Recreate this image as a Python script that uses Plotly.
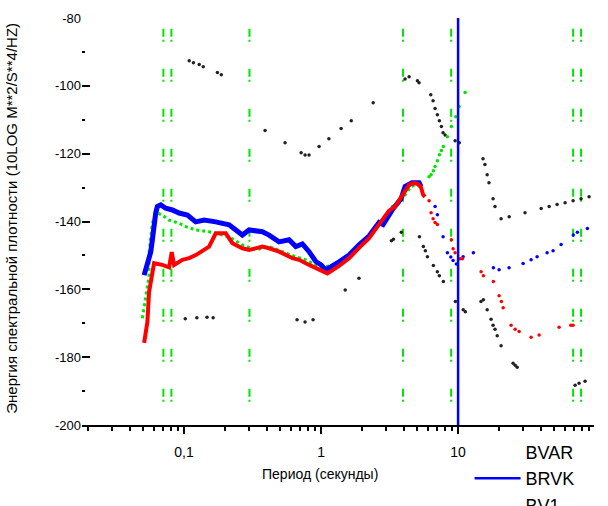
import plotly.graph_objects as go

# ---------------- data ----------------
# Upper noise model (black dots)
nhnm_period = [0.109, 0.117, 0.129, 0.138, 0.175, 0.187, 0.39, 0.546, 0.715, 0.764, 0.817, 0.967,
               1.14, 1.40, 1.66, 2.40, 4.10, 4.39, 5.05, 5.19, 6.32, 6.57, 6.79, 7.06, 7.30, 7.55,
               7.77, 8.04, 9.51, 10.2, 15.2, 15.7, 16.3, 16.8, 18.0, 18.6, 20.6, 23.6, 30.8, 40.4,
               46.2, 52.8, 60.4, 69.1, 79.0, 90.4]
nhnm_db = [-92.6, -93.2, -93.7, -94.4, -96.1, -96.7, -113.2, -116.8, -119.7, -120.4, -120.4, -117.9,
           -115.6, -112.6, -110.3, -105.0, -98.0, -97.3, -98.5, -99.1, -102.6, -104.4, -106.7, -108.5,
           -110.3, -112.0, -113.8, -114.5, -116.2, -116.8, -121.5, -123.2, -126.2, -128.6, -133.3,
           -135.6, -139.2, -138.6, -137.4, -136.2, -135.6, -135.0, -134.5, -133.9, -133.3, -132.7]

# Lower noise model (black dots)
nlnm_period = [0.102, 0.124, 0.147, 0.163, 0.668, 0.764, 0.874, 1.50, 1.89, 3.26, 3.37, 3.85, 5.22,
               5.58, 5.77, 5.97, 6.60, 7.06, 7.30, 7.81, 9.56, 10.9, 11.3, 14.7, 15.3, 16.3, 17.4,
               18.0, 18.6, 19.3, 20.6, 25.2, 26.1, 27.0, 71.5, 76.4, 84.5]
nlnm_db = [-168.7, -168.4, -168.2, -168.4, -169.0, -169.6, -169.0, -160.2, -156.7, -145.7, -145.2,
           -143.2, -144.5, -147.4, -148.6, -150.4, -153.0, -154.8, -156.0, -157.7, -163.6, -166.0,
           -166.6, -163.6, -163.1, -166.0, -168.8, -170.6, -171.8, -173.7, -176.6, -181.8, -182.4,
           -183.0, -188.3, -187.7, -187.1]

# BRVK (blue)
brvk_period = [0.0511, 0.0525, 0.0571, 0.0587, 0.0604, 0.0621, 0.0638, 0.0676, 0.0735, 0.0821,
               0.0919, 0.1057, 0.1217, 0.140, 0.1703, 0.2131, 0.2664, 0.2982, 0.3728, 0.4174,
               0.4936, 0.584, 0.6536, 0.7303, 0.8174, 0.9148, 1.0, 1.082, 1.353, 1.601, 1.894,
               2.240, 2.651, 2.836, 3.354, 3.648, 3.837, 4.104, 4.615, 5.192, 5.370]
brvk_db = [-155.8, -154.3, -149.0, -145.4, -140.4, -137.5, -135.6, -135.1, -136.1, -136.6,
           -137.5, -138.1, -140.1, -139.6, -140.1, -141.0, -144.0, -142.5, -143.0, -144.0,
           -146.0, -145.4, -147.4, -146.6, -148.9, -151.8, -152.8, -154.3, -151.9, -149.9, -146.9,
           -144.3, -140.3, -140.9, -136.2, -134.5, -133.3, -129.7, -128.6, -128.6, -129.7]
brvk_tail_period = [6.794, 7.062, 7.772, 8.355, 8.846, 9.194, 9.719, 10.88, 12.93, 18.10, 19.92,
                    23.56, 29.82, 34.11, 37.72, 44.63, 49.36, 56.47, 69.3, 74.27, 87.86]
brvk_tail_db = [-135.6, -138.0, -144.5, -149.2, -150.5, -151.5, -152.5, -150.4, -149.2, -153.6,
                -154.2, -153.6, -152.4, -151.3, -150.4, -149.2, -148.6, -146.8, -144.0, -143.2, -142.1]

# BVAR (red)
bvar_period = [0.0511, 0.0540, 0.0555, 0.0604, 0.0694, 0.0777, 0.0813, 0.0845, 0.0972, 0.1088,
               0.1217, 0.1522, 0.1703, 0.2015, 0.2253, 0.2664, 0.2982, 0.3338, 0.3728, 0.4174,
               0.4936, 0.6173, 0.691, 0.8174, 0.967, 1.112, 1.353, 1.601, 1.894, 2.240, 2.967,
               3.136, 3.469, 4.388, 4.773, 5.045, 5.343, 5.554, 5.744]
bvar_db = [-175.8, -169.6, -160.8, -152.3, -152.8, -153.5, -149.0, -152.8, -151.3, -150.8,
           -149.9, -147.4, -143.5, -143.5, -146.4, -147.9, -148.4, -147.9, -147.4, -147.9,
           -148.9, -150.8, -151.3, -152.8, -154.3, -155.3, -153.1, -150.8, -147.8, -144.9, -138.1,
           -136.8, -135.6, -129.2, -128.6, -128.9, -129.7, -132.1, -132.7]
bvar_tail_period = [6.143, 6.353, 6.570, 6.794, 7.062, 8.936, 9.194, 9.509, 10.34, 10.75, 14.72,
                    15.30, 18.10, 19.92, 20.71, 21.31, 24.37, 26.07, 27.88, 34.11, 39.02, 54.60,
                    66.46, 69.09]
bvar_tail_db = [-133.9, -137.4, -139.2, -140.3, -140.9, -145.4, -148.0, -149.2, -151.0, -151.0,
                -154.8, -156.0, -157.7, -161.9, -163.6, -165.4, -170.6, -171.8, -172.4, -174.1,
                -173.5, -171.2, -170.6, -170.6]

# BV1 (green)
bv1_period = [0.0496, 0.0555, 0.0555, 0.0571, 0.0587, 0.0621, 0.0638, 0.0694, 0.0777, 0.0919,
              0.1029, 0.1217, 0.1522, 0.1703, 0.2131, 0.2664, 0.3338, 0.4174, 0.5218, 0.6536,
              0.773, 0.9148, 1.082, 1.353, 1.601, 1.894, 2.240, 2.728, 3.315, 3.922, 4.515, 4.911]
bv1_db = [-168.5, -156.3, -149.3, -144.9, -140.4, -138.1, -137.5, -138.1, -139.6, -140.5,
          -141.5, -142.5, -143.0, -143.5, -144.5, -146.9, -148.4, -147.4, -148.9, -150.4,
          -151.3, -152.8, -153.3, -152.5, -150.2, -147.2, -144.0, -140.1, -135.6, -133.3, -129.7, -129.2]
bv1_tail_period = [6.143, 6.353, 6.603, 6.794, 7.062, 7.303, 7.553, 7.81, 8.355, 8.936, 9.621,
                   10.17, 11.25]
bv1_tail_db = [-126.8, -126.2, -125.0, -123.8, -122.1, -120.3, -119.1, -117.9, -115.0, -112.0,
               -109.1, -106.1, -102.0]

# Green vertical marker periods and the blue reference period
marker_periods = [0.0706, 0.0808, 0.30, 3.96, 8.89, 69.1, 79.0]
ref_period = 10

x_tickvals = [0.1, 1, 10, 100]
x_ticktext = ["0,1", "1", "10", "100"]
y_tickvals = [-80, -100, -120, -140, -160, -180, -200]
y_ticktext = ["-80", "-100", "-120", "-140", "-160", "-180", "-200"]

legend_names = ["BVAR", "BRVK", "BV1"]

FONT = "Arial, 'Liberation Sans', sans-serif"
BLUE = "#0000ff"
RED = "#ff0000"
GREEN = "#00e600"
BLACK = "#222222"

Y_TOP, Y_BOT = -80, -200

fig = go.Figure()

# green dashed vertical markers
vx, vy = [], []
for p in marker_periods:
    vx += [p, p, None]
    vy += [Y_TOP - 3.2, Y_BOT, None]
fig.add_trace(go.Scatter(x=vx, y=vy, mode="lines", showlegend=False, hoverinfo="skip",
                         line=dict(color=GREEN, width=2, dash="8px,3px,2px,27px")))

# noise models
fig.add_trace(go.Scatter(x=nhnm_period, y=nhnm_db, mode="markers", showlegend=False,
                         marker=dict(color=BLACK, size=3.5)))
fig.add_trace(go.Scatter(x=nlnm_period, y=nlnm_db, mode="markers", showlegend=False,
                         marker=dict(color=BLACK, size=3.5)))

# BV1
fig.add_trace(go.Scatter(x=bv1_period, y=bv1_db, mode="lines", showlegend=False,
                         line=dict(color=GREEN, width=3, dash="dot")))
fig.add_trace(go.Scatter(x=bv1_tail_period, y=bv1_tail_db, mode="markers", showlegend=False,
                         marker=dict(color=GREEN, size=3.5)))
# BRVK
fig.add_trace(go.Scatter(x=brvk_period, y=brvk_db, mode="lines", showlegend=False,
                         line=dict(color=BLUE, width=5)))
fig.add_trace(go.Scatter(x=brvk_tail_period, y=brvk_tail_db, mode="markers", showlegend=False,
                         marker=dict(color=BLUE, size=3.5)))
# BVAR
fig.add_trace(go.Scatter(x=bvar_period, y=bvar_db, mode="lines", showlegend=False,
                         line=dict(color=RED, width=4)))
fig.add_trace(go.Scatter(x=bvar_tail_period, y=bvar_tail_db, mode="markers", showlegend=False,
                         marker=dict(color=RED, size=3.5)))

# blue reference vertical line
fig.add_trace(go.Scatter(x=[ref_period, ref_period], y=[Y_TOP, Y_BOT], mode="lines",
                         showlegend=False, line=dict(color=BLUE, width=2.5)))

# legend entries
legend_colors = ["rgba(0,0,0,0)", BLUE, "rgba(0,0,0,0)"]
for name, col in zip(legend_names, legend_colors):
    fig.add_trace(go.Scatter(x=[None], y=[None], mode="lines", name=name,
                             line=dict(color=col, width=2.5)))

fig.update_layout(
    width=608, height=506,
    margin=dict(l=82, r=14, t=18, b=81, autoexpand=False),
    paper_bgcolor="white", plot_bgcolor="white",
    font=dict(family=FONT, size=14, color="black"),
    showlegend=True,
    legend=dict(x=0.757, y=-0.021, xanchor="left", yanchor="top",
                bgcolor="rgba(0,0,0,0)", font=dict(size=18, family=FONT),
                itemwidth=46, tracegroupgap=0),
    annotations=[
        dict(text="Период (секунды)", xref="paper", yref="paper", x=0.465, y=-0.12,
             xanchor="center", yanchor="middle", showarrow=False, font=dict(size=14)),
        dict(text="Энергия спектральной плотности (10LOG M**2/S**4/HZ)", xref="paper",
             yref="paper", x=-0.137, y=0.509, xanchor="center", yanchor="middle",
             textangle=-90, showarrow=False, font=dict(size=15)),
    ],
)

fig.update_xaxes(type="log", range=[-1.745, 1.992], showgrid=False, zeroline=False,
                 showline=True, linecolor="black", linewidth=2,
                 tickvals=x_tickvals, ticktext=x_ticktext, ticks="outside", ticklen=7,
                 tickcolor="black", tickwidth=1.5, ticklabelstandoff=6,
                 tickfont=dict(size=14),
                 minor=dict(ticks="outside", ticklen=4, tickcolor="black", tickwidth=1.5,
                            dtick="D1", showgrid=False))
fig.update_yaxes(range=[Y_BOT, Y_TOP], showgrid=False, zeroline=False, showline=False,
                 tickvals=y_tickvals, ticktext=y_ticktext, ticks="inside", ticklen=8,
                 tickcolor="black", tickwidth=1.5, tickfont=dict(size=13),
                 minor=dict(ticks="inside", ticklen=3, tickcolor="black", tickwidth=1.5,
                            dtick=10, showgrid=False))

fig.write_html("out.html", config={"displayModeBar": False},
               post_script="document.body.style.margin='0';document.body.style.overflow='hidden';")
